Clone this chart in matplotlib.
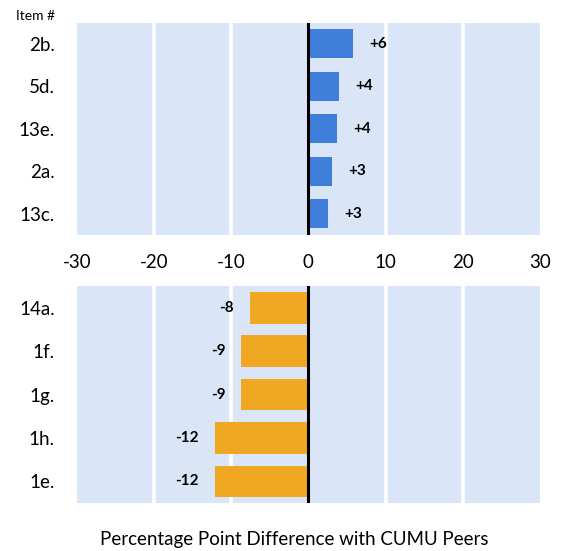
import numpy as np
import matplotlib.pyplot as plt

plt.rcParams['font.family'] = ['Lato', 'DejaVu Sans']

# top panel (positive differences)
top_items = ['2b.', '5d.', '13e.', '2a.', '13c.']
top_vals = [5.8, 3.95, 3.7, 3.1, 2.6]
top_labels = ['+6', '+4', '+4', '+3', '+3']

# bottom panel (negative differences)
bot_items = ['14a.', '1f.', '1g.', '1h.', '1e.']
bot_vals = [-7.6, -8.7, -8.7, -12.1, -12.1]
bot_labels = ['-8', '-9', '-9', '-12', '-12']

xticks = [-30, -20, -10, 0, 10, 20, 30]

bg = '#dae6f8'
blue = '#3f7fdb'
orange = '#f0a823'

fig = plt.figure(figsize=(5.69, 5.51), dpi=100)
ax1 = fig.add_axes([0.135, 0.5735, 0.814, 0.3855])
ax2 = fig.add_axes([0.135, 0.087, 0.814, 0.394])


def draw(ax, items, vals, labels, color, height, side):
    y = np.arange(len(items))
    ax.set_facecolor(bg)
    for g in [-20, -10, 10, 20]:
        ax.axvline(g, color='white', lw=2.6, zorder=1)
    ax.barh(y, vals, height=height, color=color, zorder=2)
    ax.axvline(0, color='black', lw=2.2, zorder=3)
    for yi, v, lab in zip(y, vals, labels):
        ax.annotate(lab, (v, yi), xytext=(11.5 * side, 0), textcoords='offset points',
                    ha='left' if side > 0 else 'right', va='center',
                    fontsize=11, fontweight='bold')
    ax.set_xlim(-30, 30)
    ax.set_ylim(len(items) - 0.5, -0.5)
    ax.set_yticks(y)
    ax.set_yticklabels(items, fontsize=13.5)
    for s in ax.spines.values():
        s.set_visible(False)
    ax.tick_params(length=0, pad=16)


draw(ax1, top_items, top_vals, top_labels, blue, 0.69, 1)
draw(ax2, bot_items, bot_vals, bot_labels, orange, 0.73, -1)

ax1.set_xticks(xticks)
ax1.set_xticklabels([str(t) for t in xticks], fontsize=13.5)
ax1.tick_params(axis='x', pad=14)
ax2.set_xticks([])

fig.text(0.028, 0.971, 'Item #', fontsize=10, ha='left', va='center')
fig.text(0.517, 0.02, 'Percentage Point Difference with CUMU Peers',
         fontsize=13.5, ha='center', va='center')

fig.savefig('out.png', dpi=100)
